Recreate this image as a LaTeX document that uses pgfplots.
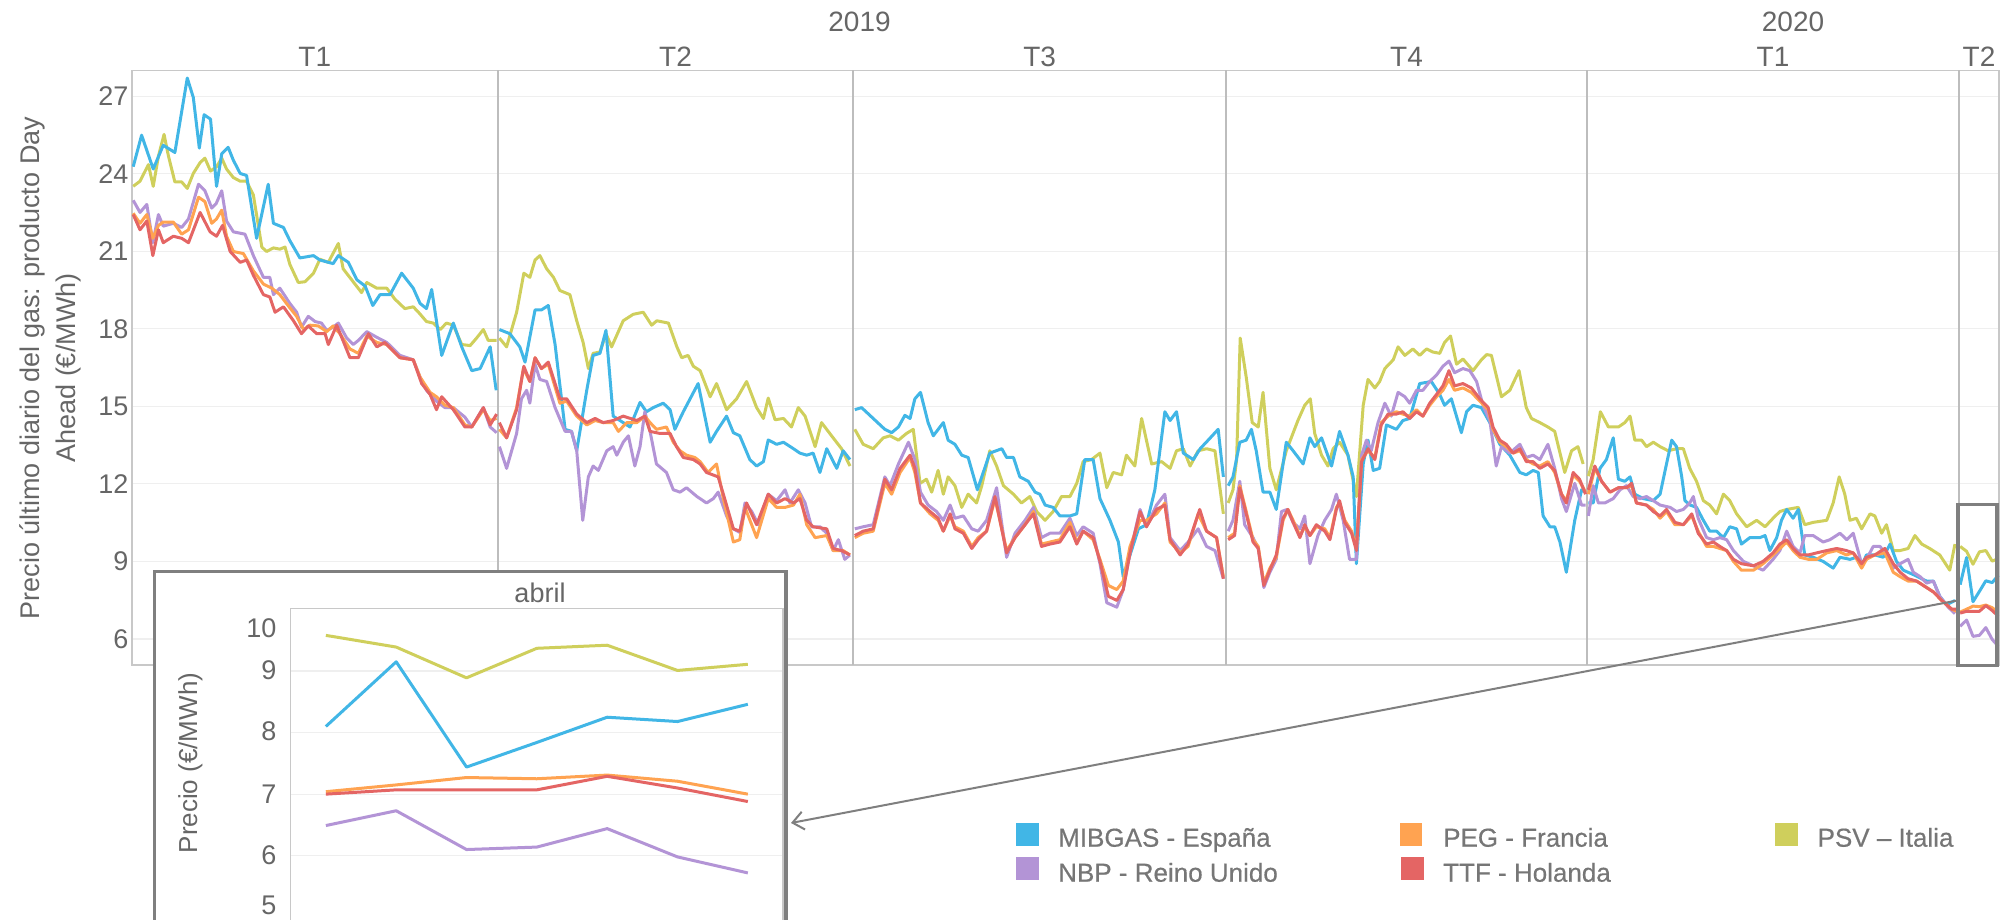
\documentclass[border=0pt]{standalone}
\usepackage{fontspec}
\setmainfont{Liberation Sans}
\newfontfamily\legfont[FakeBold=0.5]{Liberation Sans}
\usepackage{pgfplots}
\pgfplotsset{compat=1.18}
\usetikzlibrary{arrows.meta}
\definecolor{cMIB}{HTML}{41B6E6}
\definecolor{cNBP}{HTML}{B394D6}
\definecolor{cPEG}{HTML}{FFA351}
\definecolor{cTTF}{HTML}{E46564}
\definecolor{cPSV}{HTML}{CFCF5C}
\definecolor{txt}{HTML}{666666}
\definecolor{legtxt}{HTML}{767676}
\definecolor{gridc}{HTML}{EFEFEF}
\definecolor{framec}{HTML}{C8C8C8}
\definecolor{qline}{HTML}{BDBDBD}
\definecolor{boxc}{HTML}{7F7F7F}
\begin{document}
\begin{tikzpicture}[x=1pt,y=1pt]
\useasboundingbox (0,0) rectangle (2000,919);
\begin{axis}[
  at={(132pt,254.2pt)}, anchor=south west,
  scale only axis, width=1867pt, height=594.5pt,
  xmin=0, xmax=466, ymin=5, ymax=28,
  xtick=\empty, ytick={6,9,...,27},
  ymajorgrids, grid style={gridc, line width=1.2pt},
  axis line style={framec, line width=1.5pt},
  major tick length=0pt,
  tick label style={font=\fontsize{27}{30}\selectfont, text=txt},
  /pgf/number format/assume math mode=true,
  unbounded coords=jump,
  every axis plot/.append style={line width=3pt, line join=round, no markers},
  clip=false,
]
\draw[qline, line width=1.5pt] (axis cs:91.3,5) -- (axis cs:91.3,28);
\draw[qline, line width=1.5pt] (axis cs:180,5) -- (axis cs:180,28);
\draw[qline, line width=1.5pt] (axis cs:273,5) -- (axis cs:273,28);
\draw[qline, line width=1.5pt] (axis cs:363.1,5) -- (axis cs:363.1,28);
\draw[qline, line width=1.5pt] (axis cs:456,5) -- (axis cs:456,28);
% PSV
\addplot[cPSV] coordinates {
(0.3,23.51) (2.0,23.71) (4.1,24.35) (5.3,23.51) (6.6,24.68) (8.0,25.52) (9.1,24.68) (10.7,23.68) (12.4,23.68) (13.8,23.43) (15.3,24.01) (17.0,24.43) (18.2,24.60) (19.6,24.10) (21.1,24.27) (22.4,24.60) (23.6,24.18) (25.3,23.85) (27.0,23.71) (28.6,23.71) (30.3,23.17) (32.4,21.16) (33.6,20.99) (35.3,21.13) (36.9,21.08) (38.2,21.16) (39.4,20.49) (41.5,19.79) (43.2,19.82) (45.3,20.15) (46.9,20.69) (49.0,20.57) (51.5,21.30) (52.7,20.32) (55.2,19.82) (57.3,19.40) (58.6,19.79) (61.1,19.57) (63.6,19.57) (65.6,19.15) (68.1,18.78) (70.2,18.85) (71.5,18.64) (73.5,18.28) (75.2,18.22) (76.9,17.97) (78.5,18.22) (80.2,18.14) (82.3,17.39) (84.4,17.35) (86.0,17.64) (87.7,17.97) (88.9,17.55) (91.0,17.55)
(91.3,nan)
(91.7,17.64) (93.5,17.30) (96.0,18.64) (97.8,20.15) (99.3,19.99) (100.6,20.66) (101.8,20.83) (103.5,20.32) (105.2,19.99) (106.8,19.48) (109.3,19.32) (111.0,18.31) (112.6,17.47) (113.9,16.46) (115.1,17.05) (116.8,17.10) (118.3,17.81) (119.7,17.30) (122.6,18.31) (125.1,18.56) (127.6,18.64) (129.7,18.14) (131.0,18.31) (133.9,18.22) (136.0,17.30) (137.2,16.88) (138.8,16.97) (140.1,16.55) (141.8,16.38) (144.3,15.37) (145.9,15.88) (148.4,14.87) (150.9,15.29) (153.4,15.96) (155.9,14.95) (157.6,14.53) (158.8,15.32) (160.5,14.48) (162.6,14.53) (164.6,14.20) (166.3,14.95) (168.0,14.62) (170.5,13.44) (172.1,14.37) (175.0,13.78) (177.1,13.36) (179.2,12.69)
(180,nan)
(180.4,14.11) (182.5,13.53) (185.0,13.36) (187.5,13.78) (189.2,13.86) (191.3,13.69) (193.3,13.95) (195.0,14.11) (196.7,12.02) (198.3,12.18) (199.6,11.68) (201.2,12.52) (202.5,11.60) (203.7,12.27) (205.4,11.93) (207.1,11.09) (208.7,11.60) (210.8,11.26) (212.1,11.93) (214.1,13.28) (215.8,12.69) (217.5,11.93) (220.0,11.60) (222.0,11.26) (224.1,11.51) (225.8,10.93) (227.9,10.59) (229.9,10.93) (232.0,11.51) (234.1,11.51) (235.8,12.02) (237.4,12.86) (239.5,12.94) (241.6,13.19) (243.3,11.85) (244.9,12.44) (247.0,12.35) (248.2,13.11) (250.3,12.69) (252.0,14.53) (254.5,12.77) (257.0,12.86) (259.1,12.60) (260.7,13.28) (262.4,13.36) (264.1,12.69) (266.1,13.28) (268.2,13.36) (270.3,13.28) (272.4,10.84)
(273,nan)
(273.6,11.26) (274.8,11.77) (275.7,12.94) (276.6,17.64) (278.1,16.13) (279.6,14.37) (281.1,14.20) (282.3,15.54) (284.0,12.60) (285.6,11.77) (288.1,13.28) (291.0,14.45) (292.7,15.04) (294.1,15.29) (295.2,13.95) (296.9,13.11) (298.5,12.69) (299.8,13.36) (301.4,13.61) (303.5,13.11) (305.6,11.51) (307.3,15.04) (308.5,16.04) (310.2,15.71) (311.4,15.96) (312.7,16.46) (314.8,16.80) (316.0,17.30) (317.7,16.97) (319.7,17.22) (321.4,16.97) (323.1,17.22) (324.7,17.10) (326.4,17.05) (327.6,17.47) (329.1,17.72) (330.6,16.63) (332.2,16.83) (334.7,16.38) (336.8,16.80) (338.1,17.00) (339.3,16.97) (341.8,15.37) (343.9,15.62) (346.2,16.38) (348.0,14.95) (349.3,14.53) (351.4,14.37) (353.4,14.20) (355.1,14.03) (357.6,12.44) (359.3,13.28) (360.9,13.44) (362.2,12.77)
(363.1,nan)
(363.5,12.30) (364.7,12.94) (366.5,14.79) (368.5,14.20) (371.0,14.20) (372.6,14.37) (373.9,14.62) (375.1,13.69) (376.8,13.69) (378.0,13.44) (379.7,13.61) (381.4,13.44) (383.4,13.28) (385.5,13.36) (387.2,13.36) (388.8,12.60) (390.5,12.10) (392.2,11.35) (393.8,11.18) (395.5,10.84) (397.2,11.60) (398.8,11.35) (400.5,10.84) (403.0,10.34) (405.5,10.59) (407.6,10.34) (409.6,10.67) (411.3,10.93) (413.0,11.01) (415.9,11.09) (417.5,10.42) (419.6,10.51) (423.0,10.59) (424.6,11.26) (426.1,12.27) (427.5,11.60) (428.8,10.59) (430.4,10.67) (431.7,10.26) (433.8,10.84) (435.0,10.76) (436.7,10.09) (437.9,10.42) (439.6,9.42) (441.3,9.42) (443.3,9.50) (445.0,10.00) (446.7,9.67) (448.7,9.50) (451.2,9.25) (453.7,8.66) (455.0,9.67)
(456,nan)
(456.3,9.58) (457.9,9.39) (459.5,8.89) (461.1,9.37) (462.7,9.42) (464.3,9.01) (465.8,9.11)
};
% MIBGAS
\addplot[cMIB] coordinates {
(0.3,24.27) (2.4,25.49) (5.3,24.18) (7.8,25.10) (10.7,24.82) (13.8,27.70) (15.3,26.95) (16.8,24.99) (18.0,26.28) (19.6,26.11) (21.1,23.51) (22.4,24.77) (24.0,25.02) (25.3,24.52) (27.0,24.01) (28.6,23.93) (31.1,21.50) (34.0,23.59) (35.3,22.08) (37.8,21.92) (39.4,21.41) (41.9,20.74) (45.3,20.83) (46.9,20.66) (50.2,20.52) (51.5,20.83) (54.0,20.57) (56.1,19.90) (58.2,19.65) (60.1,18.90) (61.9,19.32) (64.4,19.32) (67.3,20.15) (70.2,19.57) (71.9,18.98) (73.5,18.78) (74.8,19.52) (77.3,16.97) (80.2,18.22) (82.3,17.30) (84.8,16.38) (86.9,16.46) (89.4,17.30) (90.9,15.62)
(91.3,nan)
(91.7,17.97) (94.3,17.81) (96.8,17.30) (98.1,16.71) (100.6,18.73) (102.2,18.73) (103.9,18.90) (105.6,17.39) (108.1,14.11) (109.7,14.03) (111.0,13.28) (113.5,15.62) (115.1,16.97) (116.8,17.05) (118.3,17.94) (120.1,14.62) (122.6,14.37) (124.3,14.20) (126.8,15.15) (128.4,14.79) (130.1,14.95) (132.6,15.12) (134.3,14.87) (135.5,14.11) (137.6,14.79) (141.3,15.88) (144.3,13.61) (145.9,14.03) (148.4,14.62) (150.1,13.98) (151.7,13.86) (154.2,12.94) (155.9,12.69) (157.6,12.86) (158.8,13.70) (160.9,13.53) (162.6,13.61) (165.1,13.36) (166.7,13.19) (168.4,13.11) (170.0,13.19) (171.7,12.44) (173.4,13.36) (175.9,12.60) (177.5,13.28) (179.2,12.94)
(180,nan)
(180.4,14.87) (182.1,14.95) (185.0,14.53) (187.9,14.11) (189.6,13.98) (191.3,14.20) (192.9,14.65) (194.2,14.53) (195.4,15.29) (196.8,15.54) (198.7,14.37) (200.0,13.86) (202.5,14.37) (203.7,13.69) (205.4,13.53) (207.1,13.11) (208.7,13.02) (211.0,11.77) (214.1,13.19) (217.1,13.36) (218.3,13.02) (220.0,13.02) (221.6,12.27) (223.7,12.10) (225.4,11.68) (226.6,11.60) (227.9,11.18) (229.9,11.09) (231.6,10.76) (234.1,10.76) (235.8,10.84) (237.8,12.94) (239.9,12.94) (241.6,11.43) (244.1,10.59) (246.2,9.75) (247.4,8.41) (249.1,9.25) (251.2,10.26) (253.2,10.42) (255.3,11.77) (257.8,14.79) (259.1,14.45) (260.7,14.79) (262.4,13.19) (264.9,12.94) (266.6,13.36) (268.6,13.69) (271.1,14.11) (272.4,12.27)
(273,nan)
(273.6,11.93) (274.8,12.27) (276.5,13.61) (278.1,13.69) (279.4,14.11) (280.6,13.28) (282.3,11.68) (284.0,11.68) (285.6,11.01) (288.1,13.61) (289.8,13.28) (292.3,12.77) (294.0,13.78) (295.2,13.44) (296.9,13.78) (299.4,12.69) (301.4,14.03) (303.5,13.11) (304.8,12.27) (305.6,8.91) (307.3,12.77) (308.5,13.69) (309.8,12.52) (311.4,12.60) (313.1,14.28) (315.6,14.11) (317.2,14.45) (318.9,14.53) (321.4,15.88) (324.3,15.96) (326.4,15.46) (327.6,15.04) (329.3,15.29) (331.8,13.98) (333.1,14.79) (334.7,15.04) (336.8,14.95) (338.9,14.37) (341.4,13.53) (343.9,13.11) (346.4,12.44) (348.0,12.35) (349.7,12.52) (351.0,12.44) (352.2,10.76) (353.9,10.34) (355.1,10.34) (356.4,9.75) (358.0,8.58) (360.1,10.59) (361.8,11.77) (362.8,11.68)
(363.1,nan)
(363.5,11.26) (364.7,11.26) (366.4,12.60) (368.0,12.94) (369.7,13.78) (371.0,12.18) (372.6,12.10) (373.9,12.27) (375.1,11.60) (377.2,11.43) (379.7,11.35) (381.4,11.60) (383.0,12.77) (384.3,13.69) (385.5,13.44) (386.8,12.27) (387.6,11.35) (388.9,11.18) (390.5,11.09) (392.2,10.59) (393.8,10.17) (395.5,10.17) (397.2,9.92) (398.8,10.34) (400.5,10.26) (401.7,9.67) (403.8,9.92) (406.3,9.92) (407.6,10.00) (408.8,9.42) (410.5,9.92) (411.7,10.59) (413.0,11.01) (414.6,10.67) (415.9,11.01) (417.5,9.25) (419.6,9.16) (422.1,9.00) (424.6,8.74) (426.3,9.16) (428.8,9.08) (430.4,9.16) (431.7,8.83) (432.9,9.25) (435.0,9.25) (437.1,9.16) (438.8,9.67) (440.4,9.00) (442.1,8.66) (444.6,8.49) (446.7,8.33) (447.9,8.24) (449.6,8.24) (451.2,7.65) (452.9,7.32) (455.0,7.49)
(456,nan)
(456.3,8.10) (457.9,9.15) (459.5,7.44) (461.1,7.84) (462.7,8.25) (464.3,8.18) (465.8,8.46)
};
% NBP
\addplot[cNBP] coordinates {
(0.3,22.97) (2.0,22.50) (3.7,22.81) (5.2,21.33) (6.6,22.42) (7.8,21.97) (10.3,22.08) (12.4,21.92) (14.1,22.25) (16.6,23.59) (18.2,23.34) (19.9,22.67) (21.0,22.84) (22.4,23.34) (23.6,22.17) (25.3,21.75) (28.2,21.66) (30.3,20.83) (32.8,19.99) (34.4,19.99) (35.3,19.32) (36.9,19.57) (39.4,18.98) (41.1,18.64) (42.3,18.06) (44.0,18.48) (45.7,18.28) (47.3,18.22) (48.6,17.94) (50.2,18.06) (51.5,18.22) (53.6,17.64) (55.2,17.39) (56.5,17.55) (58.6,17.89) (61.1,17.67) (63.6,17.47) (66.9,16.97) (70.2,16.80) (71.9,16.13) (73.5,15.62) (76.0,15.20) (78.1,14.95) (80.2,14.95) (83.1,14.58) (84.8,14.20) (87.7,14.95) (89.4,14.20) (91.0,13.98)
(91.3,nan)
(91.7,13.44) (93.5,12.60) (96.0,13.95) (97.2,15.29) (98.5,15.62) (99.3,15.12) (100.6,16.63) (101.8,16.04) (103.5,15.96) (105.6,14.95) (108.1,14.03) (109.7,14.03) (111.0,13.28) (112.5,10.59) (113.9,12.27) (115.1,12.69) (116.4,12.52) (118.5,13.28) (120.1,13.44) (121.0,13.11) (122.6,13.61) (123.9,13.86) (125.5,12.69) (126.8,13.44) (128.0,14.79) (129.3,14.03) (130.9,12.77) (133.4,12.44) (135.1,11.77) (136.8,11.68) (138.4,11.85) (141.0,11.51) (143.4,11.26) (145.1,11.43) (146.3,11.68) (148.4,10.76) (150.1,10.26) (151.7,10.12) (153.0,11.26) (154.7,10.93) (156.3,10.42) (158.8,11.60) (160.9,11.35) (163.0,11.77) (164.2,11.26) (166.3,11.77) (168.0,11.26) (169.6,10.34) (171.7,10.34) (173.4,10.09) (175.0,9.42) (176.3,9.84) (177.9,9.08) (179.2,9.25)
(180,nan)
(180.4,10.26) (182.5,10.34) (185.0,10.42) (187.9,12.27) (189.2,11.93) (191.3,12.77) (193.8,13.61) (195.4,12.94) (196.8,11.68) (198.7,11.18) (200.8,10.93) (202.5,10.59) (204.2,11.18) (205.4,10.67) (207.5,10.76) (209.6,10.26) (211.2,10.17) (213.3,10.59) (215.8,11.85) (218.3,9.16) (220.4,10.09) (222.9,10.59) (225.0,11.09) (227.0,9.92) (229.1,10.09) (231.6,10.09) (234.1,10.67) (235.8,10.00) (237.4,10.34) (239.9,10.09) (241.6,8.91) (243.3,7.40) (245.8,7.23) (247.4,7.91) (249.1,9.33) (251.6,11.01) (253.2,10.34) (255.7,11.18) (257.8,11.60) (259.1,9.92) (261.6,9.42) (263.6,9.75) (266.1,10.26) (268.2,9.58) (270.3,9.42) (272.4,8.33)
(273,nan)
(273.6,10.17) (274.8,10.59) (276.5,12.10) (277.7,10.42) (279.8,9.92) (281.1,9.50) (282.5,7.99) (284.0,8.58) (285.6,9.08) (286.9,10.93) (288.3,11.01) (289.8,10.51) (291.5,10.26) (292.7,10.76) (294.0,8.91) (296.0,10.00) (297.7,10.59) (299.4,11.01) (300.6,11.60) (302.3,10.59) (303.9,9.08) (305.6,9.08) (306.9,13.11) (308.1,13.69) (309.3,13.28) (311.0,14.37) (312.7,15.12) (314.3,14.62) (316.0,15.54) (317.7,15.37) (318.9,15.12) (320.6,15.62) (322.2,15.62) (323.9,15.96) (325.6,16.21) (327.2,16.55) (328.7,16.75) (330.1,16.30) (332.2,16.46) (333.9,16.38) (335.6,15.96) (337.2,15.04) (338.9,14.45) (340.5,12.69) (341.8,13.44) (343.9,13.19) (346.4,13.53) (348.0,13.02) (349.7,13.11) (351.4,12.94) (353.4,13.53) (355.1,12.60) (356.8,11.43) (358.0,10.93) (360.1,12.02) (361.8,11.18) (362.8,11.18)
(363.1,nan)
(363.5,10.76) (364.7,11.93) (366.0,11.26) (367.6,11.26) (369.7,11.43) (371.4,11.77) (373.0,11.93) (374.7,11.51) (376.4,11.43) (378.0,11.51) (379.7,11.35) (381.4,11.18) (383.9,11.09) (385.5,10.93) (387.2,11.01) (388.8,11.26) (389.7,11.51) (390.9,10.67) (393.0,9.92) (394.7,9.84) (396.3,9.92) (398.0,9.84) (399.7,9.42) (402.2,9.00) (404.7,8.83) (407.1,8.66) (409.6,9.08) (411.3,9.42) (413.0,10.17) (414.6,9.58) (416.3,9.33) (417.5,10.00) (419.6,10.00) (422.1,9.75) (423.8,9.84) (426.3,10.09) (428.0,9.84) (429.6,10.09) (431.7,8.91) (432.9,9.08) (434.6,9.58) (436.3,9.58) (437.9,9.25) (439.6,8.74) (441.3,8.91) (443.3,9.08) (444.6,8.58) (446.3,8.41) (447.9,8.16) (449.6,8.24) (451.2,7.65) (453.3,7.23) (455.0,6.98)
(456,nan)
(456.3,6.49) (457.9,6.73) (459.5,6.10) (461.1,6.14) (462.7,6.44) (464.3,5.98) (465.8,5.72)
};
% PEG
\addplot[cPEG] coordinates {
(0.3,22.47) (2.0,22.08) (3.7,22.42) (5.2,21.50) (6.6,22.00) (7.8,22.13) (10.3,22.13) (12.4,21.66) (14.1,21.83) (16.6,23.09) (18.2,22.92) (19.9,22.08) (21.1,22.25) (22.4,22.59) (23.6,21.58) (25.3,20.99) (27.8,20.91) (30.3,20.24) (32.8,19.73) (34.9,19.57) (36.9,19.32) (39.4,18.81) (41.1,18.48) (42.8,17.97) (44.4,18.14) (46.5,18.11) (48.6,17.89) (50.2,18.11) (51.9,17.81) (54.4,17.22) (56.5,17.05) (58.6,17.72) (61.1,17.47) (63.6,17.39) (66.9,16.88) (70.2,16.80) (71.9,16.13) (74.4,15.54) (76.0,15.37) (78.1,15.04) (80.2,14.95) (83.1,14.28) (84.8,14.20) (87.7,14.87) (89.4,14.45) (91.0,14.53)
(91.3,nan)
(91.7,14.11) (93.5,13.78) (96.0,14.95) (97.7,16.46) (99.3,15.96) (100.6,16.88) (102.2,16.46) (103.9,16.63) (106.8,15.12) (108.5,15.20) (111.0,14.62) (113.5,14.28) (115.6,14.45) (117.6,14.37) (120.1,14.37) (121.4,14.03) (123.5,14.37) (126.0,14.37) (128.0,14.62) (129.3,14.37) (130.9,14.11) (133.4,14.20) (135.1,13.61) (136.8,13.28) (138.4,13.11) (140.5,13.02) (141.8,12.86) (143.8,12.44) (145.9,12.77) (147.6,11.43) (150.1,9.75) (151.7,9.84) (153.0,11.09) (155.9,9.92) (158.8,11.43) (160.9,11.09) (163.0,11.09) (165.1,11.18) (166.7,11.60) (168.4,10.42) (170.5,9.92) (173.4,10.00) (175.0,9.42) (177.5,9.42) (179.2,9.25)
(180,nan)
(180.4,9.92) (182.5,10.09) (185.0,10.17) (187.9,12.02) (189.6,11.60) (191.7,12.44) (194.2,13.02) (195.4,12.44) (196.8,11.26) (199.2,10.84) (201.2,10.59) (202.5,10.17) (204.2,10.76) (205.4,10.34) (207.5,10.17) (209.6,9.58) (211.2,9.92) (213.3,10.17) (215.4,11.43) (218.3,9.42) (220.4,9.92) (222.9,10.42) (225.0,10.93) (227.0,9.67) (229.1,9.75) (231.6,9.84) (234.1,10.51) (235.8,9.75) (237.4,10.17) (239.9,9.84) (241.6,9.08) (243.7,8.07) (245.8,7.91) (247.4,8.24) (249.1,9.58) (251.6,10.59) (253.2,10.59) (255.7,10.84) (257.8,11.26) (259.1,9.75) (261.6,9.33) (263.6,9.58) (266.1,10.84) (268.2,10.17) (270.7,9.92) (272.4,8.41)
(273,nan)
(273.6,9.92) (275.2,10.09) (276.5,11.93) (278.1,10.93) (279.8,9.84) (281.1,9.58) (282.5,8.16) (284.0,8.74) (285.6,9.16) (287.3,10.59) (288.5,11.01) (289.8,10.59) (291.5,10.00) (292.7,10.34) (294.0,10.00) (295.6,10.34) (297.7,10.26) (299.0,9.92) (300.6,11.09) (301.4,11.26) (302.7,10.59) (304.4,10.17) (305.6,9.50) (306.9,12.94) (308.5,13.28) (310.2,13.02) (311.8,14.37) (313.5,14.62) (315.6,14.79) (317.2,14.70) (318.9,14.62) (320.6,14.87) (322.2,14.62) (323.9,15.04) (325.6,15.37) (327.2,15.62) (328.7,16.04) (330.1,15.62) (332.2,15.71) (334.3,15.54) (336.4,15.20) (338.5,14.87) (339.7,14.11) (341.4,13.61) (343.0,13.44) (344.7,13.19) (346.4,13.28) (348.0,12.94) (349.7,12.77) (351.4,12.69) (353.4,12.86) (355.1,12.44) (356.8,11.60) (358.0,11.35) (359.7,12.35) (361.3,12.10) (362.8,11.68)
(363.1,nan)
(363.5,11.60) (365.1,12.60) (366.8,12.10) (368.9,11.68) (371.0,11.85) (373.0,11.85) (374.3,11.93) (375.5,11.26) (378.0,11.18) (379.7,11.01) (381.4,10.67) (383.0,10.93) (385.1,10.42) (387.2,10.42) (389.3,10.76) (390.9,10.17) (393.0,9.58) (394.7,9.58) (396.3,9.50) (398.0,9.42) (399.7,9.00) (401.7,8.66) (404.7,8.66) (407.1,8.91) (409.6,9.25) (411.3,9.50) (413.0,9.75) (414.6,9.42) (416.3,9.16) (418.4,9.08) (420.5,9.08) (423.0,9.33) (425.5,9.42) (427.9,9.25) (429.6,9.33) (431.7,8.74) (432.9,9.08) (435.0,9.25) (437.5,9.33) (439.6,8.58) (441.3,8.41) (443.3,8.24) (445.4,8.24) (447.1,8.07) (449.6,7.82) (451.7,7.49) (454.2,7.15) (455.4,7.07)
(456,nan)
(456.3,7.04) (457.9,7.15) (459.5,7.27) (461.1,7.25) (462.7,7.31) (464.3,7.21) (465.8,7.00)
};
% TTF
\addplot[cTTF] coordinates {
(0.3,22.42) (2.0,21.83) (3.7,22.17) (5.2,20.83) (6.6,21.83) (7.8,21.33) (10.3,21.58) (12.4,21.50) (14.1,21.33) (17.0,22.50) (19.5,21.75) (21.1,21.58) (22.6,22.00) (24.5,20.99) (27.0,20.57) (28.6,20.66) (30.3,20.07) (32.8,19.32) (34.4,19.23) (35.7,18.64) (37.8,18.85) (40.3,18.31) (42.3,17.81) (44.0,18.11) (46.1,17.81) (48.2,17.81) (49.0,17.39) (51.1,18.14) (54.4,16.88) (56.5,16.88) (59.0,17.81) (61.1,17.30) (63.1,17.47) (66.9,16.88) (70.2,16.80) (72.3,15.88) (74.4,15.46) (76.0,14.87) (77.3,15.37) (80.2,14.87) (83.1,14.20) (84.8,14.20) (87.7,14.95) (89.4,14.28) (91.0,14.70)
(91.3,nan)
(91.7,14.37) (93.5,13.78) (96.0,14.87) (97.8,16.55) (99.3,15.96) (100.6,16.88) (102.2,16.46) (103.9,16.71) (106.8,15.29) (108.5,15.29) (111.0,14.70) (113.5,14.37) (115.6,14.53) (117.6,14.37) (120.1,14.45) (122.6,14.62) (126.0,14.45) (128.0,14.62) (129.3,14.03) (131.8,13.95) (134.3,13.95) (135.9,13.44) (137.6,13.02) (140.1,12.94) (141.8,12.77) (143.4,12.44) (146.3,12.27) (147.6,11.60) (150.1,10.26) (151.7,10.17) (153.4,11.26) (155.9,10.42) (158.8,11.60) (160.9,11.26) (163.0,11.43) (165.1,11.26) (166.7,11.43) (168.4,10.59) (170.0,10.34) (173.4,10.26) (175.0,9.50) (177.1,9.42) (179.2,9.25)
(180,nan)
(180.4,10.00) (182.5,10.17) (185.0,10.26) (187.9,12.18) (189.6,11.77) (191.7,12.60) (194.2,13.11) (195.4,12.60) (196.8,11.26) (199.2,10.93) (201.2,10.67) (202.5,10.17) (204.2,10.84) (205.4,10.26) (207.5,10.09) (209.6,9.50) (211.2,9.84) (213.3,10.17) (215.4,11.51) (218.3,9.33) (220.4,9.92) (222.9,10.42) (225.0,10.84) (227.0,9.58) (229.1,9.67) (231.6,9.75) (234.1,10.34) (235.8,9.67) (237.4,10.17) (239.9,9.92) (241.6,9.00) (243.7,7.65) (245.8,7.49) (247.4,7.91) (249.1,9.33) (251.6,10.93) (253.2,10.34) (255.7,11.01) (257.8,11.18) (259.1,9.84) (261.6,9.25) (263.6,9.67) (266.5,11.01) (268.2,10.17) (270.7,9.92) (272.4,8.33)
(273,nan)
(273.6,9.84) (275.2,10.00) (276.5,11.85) (278.1,10.84) (279.8,9.75) (281.1,9.50) (282.5,8.07) (284.0,8.66) (285.6,9.25) (287.3,10.67) (288.5,11.01) (289.8,10.51) (291.5,9.92) (292.7,10.42) (294.0,10.00) (295.6,10.42) (297.7,10.17) (299.0,9.84) (300.6,11.01) (301.4,11.35) (302.7,10.51) (304.4,10.09) (305.6,9.42) (306.9,12.86) (308.5,13.36) (310.2,12.94) (311.8,14.28) (313.5,14.70) (315.6,14.70) (317.2,14.79) (318.9,14.53) (320.6,14.79) (322.2,14.62) (323.9,15.12) (325.6,15.46) (327.2,15.79) (328.7,16.38) (330.1,15.79) (332.2,15.88) (334.3,15.71) (336.4,15.29) (338.5,14.95) (339.7,14.20) (341.4,13.69) (343.0,13.53) (344.7,13.19) (346.4,13.36) (348.0,12.86) (349.7,12.86) (351.4,12.60) (353.4,12.77) (355.1,12.52) (356.8,11.60) (358.0,11.26) (359.7,12.44) (361.3,12.18) (362.8,11.60)
(363.1,nan)
(363.5,11.77) (365.1,12.69) (366.8,12.10) (368.9,11.68) (371.0,11.85) (373.0,11.85) (374.3,12.02) (375.5,11.26) (378.0,11.18) (379.7,10.93) (381.4,10.76) (383.0,11.01) (385.1,10.51) (387.2,10.42) (389.3,10.84) (390.9,10.09) (393.0,9.67) (394.7,9.75) (396.3,9.58) (398.0,9.42) (399.7,9.08) (401.7,8.91) (404.7,8.83) (407.1,9.00) (409.6,9.33) (411.3,9.67) (413.0,9.84) (414.6,9.50) (416.3,9.25) (418.4,9.25) (420.5,9.33) (423.0,9.42) (425.5,9.50) (427.9,9.42) (429.6,9.33) (431.7,8.91) (432.9,9.16) (435.0,9.25) (437.5,9.50) (439.6,8.91) (441.3,8.58) (443.3,8.33) (445.4,8.24) (447.1,8.07) (449.6,7.82) (451.7,7.49) (454.2,7.15) (455.4,7.15)
(456,nan)
(456.3,7.00) (457.9,7.07) (459.5,7.07) (461.1,7.07) (462.7,7.29) (464.3,7.10) (465.8,6.88)
};
\draw[boxc, line width=3.75pt] (axis cs:455.8,4.97) rectangle (axis cs:465.4,11.2);
\end{axis}
% quarter and year labels
\begin{scope}[every node/.style={font=\fontsize{28}{30}\selectfont, text=txt}]
\node at (314.8,862.6) {T1};
\node at (675.5,862.6) {T2};
\node at (1039.7,862.6) {T3};
\node at (1406.5,862.6) {T4};
\node at (1773,862.6) {T1};
\node at (1979,862.6) {T2};
\node at (859.5,897.3) {2019};
\node at (1793,897.3) {2020};
\end{scope}
\node[rotate=90, align=center, font=\fontsize{27}{36}\selectfont, text=txt] at (50,551) {Precio último diario del gas: producto Day\\Ahead (€/MWh)};
% arrow
\draw[boxc, line width=2pt, -{Straight Barb[length=11pt,width=18pt]}] (1956.7,318.4) -- (791,96);
% inset
\filldraw[fill=white, draw=boxc, line width=3.5pt] (154.7,347.3) rectangle (786,-40);
\node[font=\fontsize{27}{30}\selectfont, text=txt] at (540,326) {abril};
\begin{axis}[
  at={(290.7pt,310.7pt)}, anchor=north west,
  scale only axis, width=492.3pt, height=339.7pt,
  xmin=0.5, xmax=7.5, ymin=4.5, ymax=10.02,
  xtick=\empty, ytick={6,7,8,9}, yticklabels={},
  ymajorgrids, grid style={gridc, line width=1.2pt},
  axis line style={framec, line width=1.5pt},
  major tick length=0pt,
  every axis plot/.append style={line width=3pt, line join=round, no markers},
]
\addplot[cPSV] coordinates {(1,9.58) (2,9.39) (3,8.89) (4,9.37) (5,9.42) (6,9.01) (7,9.11)};
\addplot[cMIB] coordinates {(1,8.10) (2,9.15) (3,7.44) (4,7.84) (5,8.25) (6,8.18) (7,8.46)};
\addplot[cNBP] coordinates {(1,6.49) (2,6.73) (3,6.10) (4,6.14) (5,6.44) (6,5.98) (7,5.72)};
\addplot[cPEG] coordinates {(1,7.04) (2,7.15) (3,7.27) (4,7.25) (5,7.31) (6,7.21) (7,7.00)};
\addplot[cTTF] coordinates {(1,7.00) (2,7.07) (3,7.07) (4,7.07) (5,7.29) (6,7.10) (7,6.88)};
\end{axis}
\begin{scope}[every node/.style={font=\fontsize{27}{30}\selectfont, text=txt, anchor=east}]
\node at (280,291) {10};
\node at (280,248.3) {9};
\node at (280,187.3) {8};
\node at (280,124.7) {7};
\node at (280,63.3) {6};
\node at (280,14) {5};
\end{scope}
\node[rotate=90, font=\fontsize{26}{30}\selectfont, text=txt] at (190.5,156) {Precio (€/MWh)};
% legend
\begin{scope}[every node/.style={font=\legfont\fontsize{26}{30}\selectfont, text=legtxt, anchor=base west, inner sep=0pt}]
\fill[cMIB] (1015.8,73) rectangle (1038.6,95.7);
\node at (1058,72.3) {MIBGAS - España};
\fill[cNBP] (1015.8,39) rectangle (1038.6,61.7);
\node at (1058,37.3) {NBP - Reino Unido};
\fill[cPEG] (1399.6,73) rectangle (1422.4,95.7);
\node at (1443,72.3) {PEG - Francia};
\fill[cTTF] (1401,39) rectangle (1424,61.7);
\node at (1443,37.3) {TTF - Holanda};
\fill[cPSV] (1775,73) rectangle (1798,95.7);
\node at (1817.4,72.3) {PSV – Italia};
\end{scope}
\end{tikzpicture}
\end{document}
